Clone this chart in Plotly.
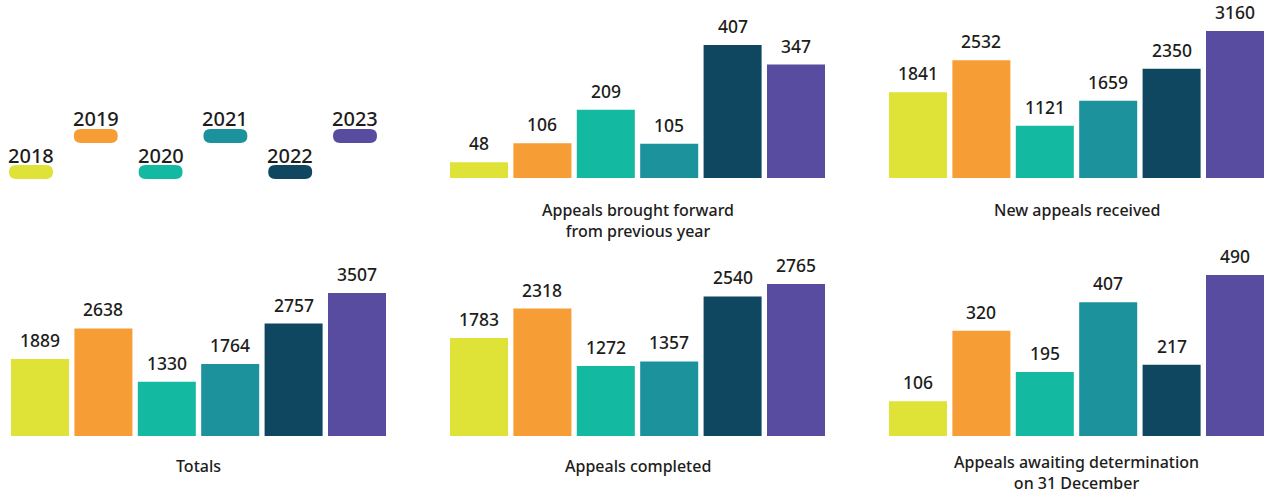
import plotly.graph_objects as go

years = ["2018", "2019", "2020", "2021", "2022", "2023"]
colors = ["#DFE237", "#F79D35", "#13B9A0", "#1C929D", "#0F4760", "#574C9F"]

brought_forward = [48, 106, 209, 105, 407, 347]
new_received = [1841, 2532, 1121, 1659, 2350, 3160]
totals = [1889, 2638, 1330, 1764, 2757, 3507]
completed = [1783, 2318, 1272, 1357, 2540, 2765]
awaiting = [106, 320, 195, 407, 217, 490]

titles = [
    "Appeals brought forward<br>from previous year",
    "New appeals received",
    "Totals",
    "Appeals completed",
    "Appeals awaiting determination<br>on 31 December",
]

W, H = 1271, 495
FONT = "Noto Sans"
TXT = "#1d1d1b"

# panel layout: (values, x-left px, x-right px, y-top px, y-bottom px, y range max, title block centre px)
panels = [
    (brought_forward, 447.3, 827.7, 20, 178, 483.5, 220),
    (new_received, 886.3, 1266.7, 20, 178, 3396, 210),
    (totals, 8.3, 388.7, 260, 436, 4316, 466),
    (completed, 447.3, 827.7, 260, 436, 3202, 466),
    (awaiting, 886.3, 1266.7, 260, 436, 535.7, 472),
]

fig = go.Figure()
annotations = []
layout_axes = {}

for i, (vals, xl, xr, yt, yb, ymax, tc) in enumerate(panels):
    n = i + 1
    xa = "x" if n == 1 else f"x{n}"
    ya = "y" if n == 1 else f"y{n}"
    fig.add_trace(go.Bar(
        x=years, y=vals, marker=dict(color=colors, line=dict(width=0)),
        xaxis=xa, yaxis=ya, showlegend=False, hoverinfo="x+y",
    ))
    xkey = "xaxis" if n == 1 else f"xaxis{n}"
    ykey = "yaxis" if n == 1 else f"yaxis{n}"
    layout_axes[xkey] = dict(domain=[xl / W, xr / W], anchor=ya, visible=False,
                             type="category", range=[-0.5, len(years) - 0.5],
                             fixedrange=True)
    layout_axes[ykey] = dict(domain=[1 - yb / H, 1 - yt / H], anchor=xa, visible=False,
                             range=[0, ymax], fixedrange=True)
    for k, v in enumerate(vals):
        annotations.append(dict(
            x=k, y=v, xref=xa, yref=ya, text=str(v), showarrow=False,
            yanchor="bottom", yshift=5,
            font=dict(family=FONT, size=17.5, color=TXT, weight=500),
        ))
    annotations.append(dict(
        x=(xl + xr) / 2 / W, y=1 - tc / H, xref="paper", yref="paper",
        text=titles[i], showarrow=False, yanchor="middle", xanchor="center",
        font=dict(family=FONT, size=16, color=TXT, weight=500),
    ))

# legend panel (pixel-scaled axes)
layout_axes["xaxis6"] = dict(domain=[0, 400 / W], range=[0, 400], anchor="y6",
                             visible=False, fixedrange=True)
layout_axes["yaxis6"] = dict(domain=[1 - 200 / H, 1 - 100 / H], range=[200, 100],
                             anchor="x6", visible=False, fixedrange=True)
fig.add_trace(go.Scatter(x=[0], y=[150], xaxis="x6", yaxis="y6", mode="markers",
                         marker=dict(opacity=0), showlegend=False, hoverinfo="skip"))

shapes = []
pill_w, pill_h = 44, 14
for k, (yr, c) in enumerate(zip(years, colors)):
    cx = 31 + k * 64.8
    cy = 172 if k % 2 == 0 else 136
    x0, x1 = cx - pill_w / 2, cx + pill_w / 2
    y0, y1 = cy - pill_h / 2, cy + pill_h / 2
    r = pill_h / 2
    path = (f"M {x0+r},{y0} L {x1-r},{y0} Q {x1},{y0} {x1},{y0+r} "
            f"Q {x1},{y1} {x1-r},{y1} L {x0+r},{y1} Q {x0},{y1} {x0},{y1-r} "
            f"Q {x0},{y0} {x0+r},{y0} Z")
    shapes.append(dict(type="path", path=path, xref="x6", yref="y6",
                       fillcolor=c, line=dict(width=0), layer="above"))
    annotations.append(dict(
        x=cx, y=cy - 17, xref="x6", yref="y6", text=yr, showarrow=False,
        yanchor="middle", xanchor="center",
        font=dict(family=FONT, size=20, color=TXT, weight=500),
    ))

fig.update_layout(
    width=W, height=H, margin=dict(l=0, r=0, t=0, b=0),
    paper_bgcolor="white", plot_bgcolor="white",
    bargap=0.085, annotations=annotations, shapes=shapes,
    **layout_axes,
)

fig.write_html("out.html", config={"displayModeBar": False},
               post_script="document.body.style.margin='0';document.body.style.overflow='hidden';")
